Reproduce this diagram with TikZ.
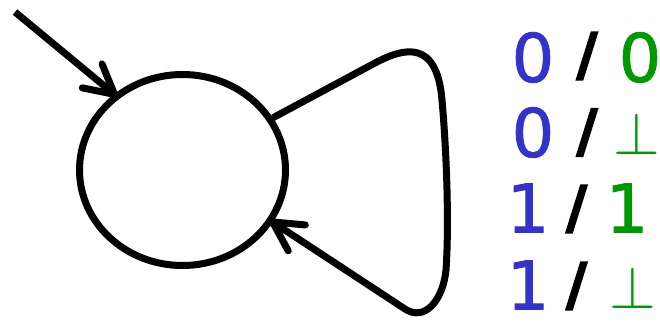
\documentclass[tikz,border=0pt]{standalone}
\usepackage{fontspec}
\setmainfont{DejaVu Sans}
\newfontfamily\digitfont[FakeBold=1.2]{DejaVu Sans}
\newfontfamily\slashfont[FakeBold=2.5]{DejaVu Sans Bold}
\usetikzlibrary{arrows.meta,shapes.geometric}
\definecolor{inblue}{RGB}{51,51,204}
\definecolor{outgreen}{RGB}{0,153,0}
\tikzset{
  state/.style={ellipse, draw, line width=7pt, minimum width=206pt, minimum height=191pt, inner sep=0pt},
  edge/.style={line width=7pt, -{Straight Barb[length=29pt,width=31pt,round]}},
  digit/.style={inner sep=0pt, font=\digitfont\fontsize{67}{70}\selectfont},
  slashc/.style={inner sep=0pt, font=\slashfont\fontsize{58}{62}\selectfont},
  bottom/.style={inner sep=0pt, text=outgreen, font=\fontsize{10}{12}\selectfont}
}
\begin{document}
\begin{tikzpicture}[x=1pt,y=1pt]
\useasboundingbox (0,0) rectangle (660,327);
\node[state] (s) at (182.5,157) {};
\coordinate (init) at (15,315);
\draw[edge, shorten >=-4pt] (init) -- (s.132);
\draw[edge, shorten >=-4pt] (s.30) -- (375,264)
  .. controls (405,280) and (437,287) .. (442,227)
  .. controls (447,170) and (449,100) .. (446,57)
  .. controls (443,27) and (425,5) .. (405,18)
  -- (s.330);
% labels
\node[digit, text=inblue] (a1) at (533,269.5) {0};
\node[slashc] (s1) at (587,271) {/};
\node[digit, text=outgreen] (b1) at (640,269.5) {0};
\node[digit, text=inblue] (a2) at (533,194.5) {0};
\node[slashc] (s2) at (587,194.5) {/};
\node[bottom] (b2) at (636.5,193) {\scalebox{6}{$\perp$}};
\node[digit, text=inblue] (a3) at (528,119) {1};
\node[slashc] (s3) at (576.5,118) {/};
\node[digit, text=outgreen] (b3) at (627,119) {1};
\node[digit, text=inblue] (a4) at (528,42) {1};
\node[slashc] (s4) at (576.5,41) {/};
\node[bottom] (b4) at (633,39) {\scalebox{6}{$\perp$}};
\end{tikzpicture}
\end{document}
